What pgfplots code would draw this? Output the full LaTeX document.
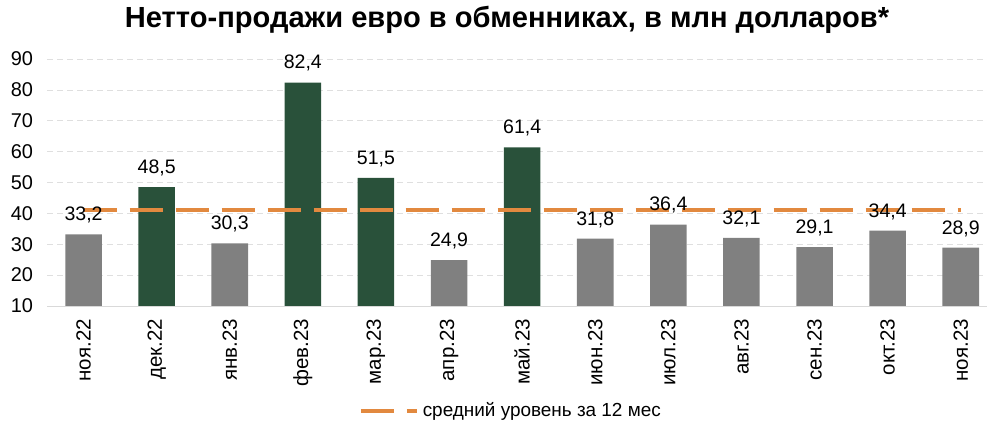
\documentclass[border=0pt]{standalone}
\usepackage{fontspec}
\setmainfont{Liberation Sans}
\usepackage{pgfplots}
\pgfplotsset{compat=1.18}
\definecolor{bargreen}{HTML}{29513A}
\definecolor{bargrey}{HTML}{808080}
\definecolor{avgorange}{HTML}{E2893F}
\begin{document}
\begin{tikzpicture}
\useasboundingbox (0,0) rectangle (493.5bp,214.5bp);
\node[font=\bfseries\fontsize{14.6}{17}\selectfont, anchor=base] at (253.5bp,200.5bp)
  {Нетто-продажи евро в обменниках, в млн долларов*};
\begin{axis}[
  at={(23.5bp,61.5bp)}, anchor=south west,
  scale only axis, width=471.5bp, height=128.1bp,
  ymin=10, ymax=93, xmin=-0.5, xmax=12.4,
  ytick={10,20,...,90},
  xtick={0,...,12},
  xticklabels={ноя.22,дек.22,янв.23,фев.23,мар.23,апр.23,май.23,июн.23,июл.23,авг.23,сен.23,окт.23,ноя.23},
  xticklabel style={rotate=90, anchor=east, font=\fontsize{10.3}{12}\selectfont},
  yticklabel style={font=\fontsize{10}{12}\selectfont},
  xticklabel shift=3bp, yticklabel shift=3.5bp,
  major tick length=0pt,
  axis lines*=left,
  axis line style={-},
  y axis line style={draw=none},
  x axis line style={draw=gray!30},
  ymajorgrids, grid style={gray!25, dash pattern=on 3bp off 2bp},
  /pgf/number format/assume math mode=true,
  legend style={at={(0.493,-0.41)}, anchor=center, draw=none,
    font=\fontsize{9.5}{11}\selectfont},
  legend image code/.code={\draw[#1] (0bp,0bp) -- (28bp,0bp);},
]
% bars below the average
\addplot[ybar, bar width=0.5, bar shift=0pt, fill=bargrey, draw=none, forget plot]
  coordinates {(0,33.2) (2,30.3) (5,24.9) (7,31.8) (8,36.4) (9,32.1) (10,29.1) (11,34.4) (12,28.9)};
% bars above the average
\addplot[ybar, bar width=0.5, bar shift=0pt, fill=bargreen, draw=none, forget plot]
  coordinates {(1,48.5) (3,82.4) (4,51.5) (6,61.4)};
% 12-month average
\addplot[avgorange, line width=1.9bp, dash pattern=on 16.5bp off 6.5bp]
  coordinates {(0,41) (12,41)};
\addlegendentry{средний уровень за 12 мес}
% value labels on top
\addplot[ybar, bar width=0.5, bar shift=0pt, draw=none, fill=none, forget plot,
  nodes near coords={\pgfmathprintnumber[fixed,fixed zerofill,precision=1,use comma,assume math mode=true]{\pgfplotspointmeta}},
  every node near coord/.append style={text=black, yshift=2bp, font=\fontsize{9.8}{11}\selectfont}]
  coordinates {(0,33.2) (1,48.5) (2,30.3) (3,82.4) (4,51.5) (5,24.9) (6,61.4)
               (7,31.8) (8,36.4) (9,32.1) (10,29.1) (11,34.4) (12,28.9)};
\end{axis}
\end{tikzpicture}
\end{document}
